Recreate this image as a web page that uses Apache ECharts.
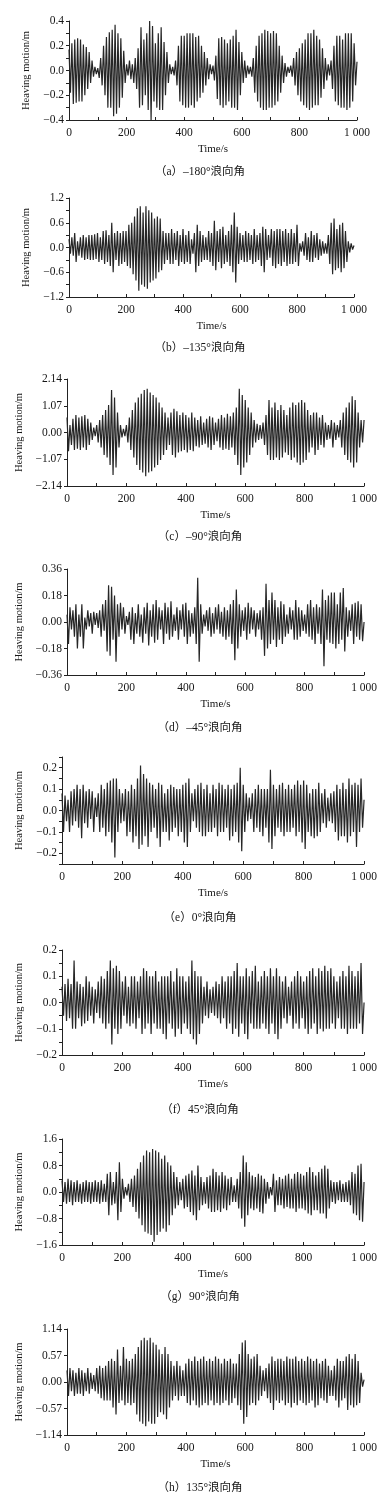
<!DOCTYPE html>
<html><head><meta charset="utf-8">
<script src="https://cdn.jsdelivr.net/npm/echarts@6/dist/echarts.min.js"></script>
<style>html,body{margin:0;padding:0;background:#fff}#c{width:380px;height:1501px}</style>
</head><body><div id="c"></div>
<script>
// time step between successive crest/trough readings (s)
const timeStep = 5;
const xTicks = [0, 200, 400, 600, 800, 1000];
const captions = ['（a）–180°浪向角','（b）–135°浪向角','（c）–90°浪向角','（d）–45°浪向角','（e）0°浪向角','（f）45°浪向角','（g）90°浪向角','（h）135°浪向角'];
const yName = 'Heaving motion/m';

const heaveA = [
0.17,-0.18,0.22,-0.27,0.25,-0.26,0.26,-0.25,0.25,-0.25,0.21,-0.2,0.19,-0.15,0.15,-0.1,0.08,-0.05,0.03,-0.03,
0.02,-0.06,0.1,-0.12,0.2,-0.2,0.27,-0.3,0.31,-0.3,0.33,-0.37,0.37,-0.35,0.3,-0.3,0.26,-0.22,0.16,-0.1,
0.05,-0.04,0.08,-0.07,0.05,-0.1,0.1,-0.15,0.18,-0.3,0.35,-0.28,0.25,-0.2,0.3,-0.32,0.4,-0.4,0.36,-0.25,
0.22,-0.3,0.3,-0.32,0.35,-0.32,0.23,-0.2,0.15,-0.1,0.05,-0.03,0.03,-0.04,0.08,-0.12,0.2,-0.25,0.28,-0.28,
0.28,-0.3,0.3,-0.3,0.3,-0.28,0.3,-0.3,0.27,-0.25,0.28,-0.22,0.2,-0.18,0.15,-0.12,0.1,-0.07,0.05,-0.03,
0.04,-0.08,0.12,-0.23,0.26,-0.28,0.27,-0.3,0.25,-0.28,0.22,-0.25,0.25,-0.3,0.28,-0.3,0.33,-0.32,0.23,-0.2,
0.15,-0.1,0.08,-0.06,0.04,-0.03,0.03,-0.05,0.1,-0.18,0.2,-0.25,0.28,-0.3,0.3,-0.32,0.33,-0.32,0.32,-0.3,
0.3,-0.3,0.32,-0.28,0.3,-0.25,0.2,-0.18,0.12,-0.1,0.06,-0.05,0.03,-0.02,0.04,-0.05,0.1,-0.12,0.15,-0.2,
0.18,-0.25,0.22,-0.28,0.25,-0.3,0.3,-0.32,0.3,-0.3,0.33,-0.28,0.28,-0.28,0.25,-0.22,0.18,-0.15,0.1,-0.08,
0.05,-0.04,0.08,-0.15,0.2,-0.25,0.28,-0.28,0.28,-0.3,0.25,-0.3,0.3,-0.32,0.3,-0.3,0.3,-0.25,0.22,-0.12,0.07];

const heaveB = [
0.2,-0.15,0.25,-0.2,0.35,-0.35,0.15,-0.2,0.25,-0.25,0.3,-0.3,0.25,-0.28,0.3,-0.3,0.3,-0.3,0.32,-0.28,
0.35,-0.35,0.25,-0.3,0.4,-0.4,0.42,-0.35,0.3,-0.45,0.6,-0.6,0.35,-0.3,0.4,-0.45,0.35,-0.4,0.4,-0.35,
0.4,-0.45,0.55,-0.5,0.6,-0.65,0.75,-0.8,0.95,-1.05,1.0,-0.9,0.85,-0.95,1.0,-1.0,0.9,-0.85,0.85,-0.8,
0.7,-0.75,0.75,-0.6,0.7,-0.55,0.4,-0.4,0.35,-0.3,0.35,-0.4,0.45,-0.4,0.35,-0.3,0.4,-0.45,0.3,-0.35,
0.45,-0.4,0.3,-0.35,0.4,-0.4,0.2,-0.15,0.35,-0.6,0.55,-0.45,0.4,-0.35,0.3,-0.3,0.25,-0.3,0.4,-0.35,
0.35,-0.45,0.65,-0.55,0.4,-0.35,0.45,-0.5,0.5,-0.4,0.3,-0.35,0.4,-0.45,0.55,-0.6,0.85,-0.85,0.5,-0.4,
0.35,-0.3,0.3,-0.35,0.4,-0.35,0.35,-0.3,0.3,-0.4,0.45,-0.35,0.3,-0.3,0.35,-0.45,0.5,-0.6,0.45,-0.3,
0.3,-0.25,0.45,-0.45,0.4,-0.5,0.45,-0.4,0.45,-0.45,0.4,-0.35,0.45,-0.45,0.35,-0.4,0.45,-0.4,0.35,-0.35,
0.55,-0.45,0.1,-0.1,0.15,-0.2,0.35,-0.3,0.25,-0.35,0.4,-0.35,0.3,-0.25,0.35,-0.3,0.2,-0.2,0.15,-0.15,
0.1,-0.15,0.3,-0.4,0.6,-0.65,0.7,-0.55,0.45,-0.5,0.55,-0.6,0.6,-0.5,0.4,-0.35,0.15,-0.12,0.1,-0.05,0.05];

const heaveC = [
0.6,-0.75,0.3,-0.5,0.55,-0.7,0.7,-0.65,0.6,-0.7,0.65,-0.6,0.7,-0.7,0.55,-0.5,0.4,-0.3,0.2,-0.15,
0.3,-0.4,0.5,-0.6,0.7,-0.9,0.9,-1.0,1.1,-1.3,1.7,-1.7,1.4,-1.4,0.8,-0.6,0.3,-0.2,0.15,-0.15,
0.3,-0.4,0.6,-0.7,0.9,-1.0,1.2,-1.3,1.4,-1.5,1.55,-1.6,1.7,-1.75,1.75,-1.6,1.6,-1.55,1.5,-1.4,
1.4,-1.3,1.2,-1.1,1.0,-0.9,0.8,-0.7,0.6,-0.5,0.8,-0.9,0.95,-1.0,0.85,-0.8,0.7,-0.75,0.8,-0.7,
0.7,-0.8,0.6,-0.7,0.8,-0.75,0.6,-0.55,0.5,-0.6,0.65,-0.5,0.4,-0.45,0.55,-0.6,0.65,-0.7,0.6,-0.5,
0.4,-0.35,0.55,-0.6,0.7,-0.7,0.6,-0.65,0.75,-0.7,0.65,-0.6,0.8,-0.9,1.0,-1.3,1.75,-1.7,1.5,-1.4,
1.3,-1.2,1.0,-0.9,0.8,-0.6,0.5,-0.4,0.35,-0.3,0.3,-0.25,0.4,-0.5,0.7,-0.9,1.3,-1.1,1.0,-1.1,
1.2,-1.0,0.9,-1.1,1.1,-1.0,0.9,-0.8,0.7,-0.9,1.0,-1.1,1.2,-1.0,1.1,-1.2,1.2,-1.3,1.3,-1.2,
1.2,-1.1,0.9,-0.8,0.7,-0.6,0.8,-0.9,0.8,-0.7,0.6,-0.5,0.7,-0.6,0.4,-0.3,0.3,-0.25,0.5,-0.6,
0.4,-0.3,0.3,-0.2,0.5,-0.6,0.8,-0.9,1.0,-1.1,1.2,-1.2,1.45,-1.4,1.3,-1.2,0.8,-0.6,0.5,-0.4,0.5];

const heaveD = [
0.05,-0.15,0.1,-0.05,0.08,-0.1,0.12,-0.18,0.05,-0.1,0.12,-0.18,0.03,-0.05,0.08,-0.03,0.06,-0.08,0.07,-0.02,
0.06,-0.04,0.08,-0.1,0.12,-0.06,0.15,-0.2,0.25,-0.23,0.24,-0.12,0.18,-0.27,0.12,-0.1,0.13,-0.05,0.1,-0.08,
0.04,-0.02,0.07,-0.12,0.1,-0.15,0.06,-0.08,0.12,-0.1,0.05,-0.14,0.1,-0.08,0.13,-0.16,0.08,-0.1,0.12,-0.14,
0.15,-0.12,0.1,-0.05,0.08,-0.15,0.13,-0.08,0.1,-0.12,0.14,-0.1,0.05,-0.06,0.1,-0.12,0.08,-0.05,0.12,-0.1,
0.13,-0.15,0.08,-0.1,0.06,-0.08,0.1,-0.15,0.3,-0.27,0.12,-0.08,0.05,-0.03,0.08,-0.06,0.1,-0.1,0.06,-0.08,
0.1,-0.05,0.12,-0.08,0.07,-0.1,0.1,-0.12,0.08,-0.1,0.12,-0.15,0.15,-0.26,0.22,-0.18,0.12,-0.1,0.08,-0.06,
0.1,-0.12,0.13,-0.08,0.1,-0.05,0.08,-0.1,0.06,-0.05,0.08,-0.12,0.1,-0.23,0.26,-0.18,0.15,-0.15,0.2,-0.12,
0.15,-0.17,0.1,-0.12,0.14,-0.15,0.12,-0.1,0.05,-0.08,0.1,-0.05,0.08,-0.12,0.15,-0.12,0.1,-0.1,0.08,-0.06,
0.05,-0.08,0.12,-0.1,0.15,-0.12,0.1,-0.15,0.12,-0.08,0.1,-0.15,0.22,-0.3,0.15,-0.12,0.18,-0.14,0.2,-0.15,
0.2,-0.18,0.12,-0.15,0.2,-0.12,0.23,-0.2,0.1,-0.1,0.08,-0.06,0.12,-0.15,0.13,-0.1,0.14,-0.12,0.12,-0.13,0.0];

const heaveE = [
0.08,-0.1,0.07,-0.05,0.05,-0.1,0.09,-0.07,0.1,-0.05,0.12,-0.08,0.1,-0.13,0.12,-0.06,0.09,-0.08,0.1,-0.04,
0.09,-0.1,0.06,-0.03,0.08,-0.1,0.12,-0.08,0.1,-0.12,0.13,-0.1,0.14,-0.15,0.15,-0.22,0.15,-0.1,0.1,-0.06,
0.08,-0.05,0.1,-0.12,0.09,-0.1,0.12,-0.15,0.1,-0.12,0.15,-0.18,0.21,-0.16,0.17,-0.12,0.15,-0.17,0.13,-0.1,
0.12,-0.08,0.1,-0.13,0.13,-0.17,0.12,-0.1,0.08,-0.1,0.1,-0.14,0.12,-0.1,0.11,-0.08,0.1,-0.12,0.1,-0.1,
0.12,-0.15,0.13,-0.17,0.15,-0.1,0.08,-0.05,0.1,-0.08,0.12,-0.1,0.13,-0.12,0.1,-0.12,0.12,-0.1,0.08,-0.1,
0.12,-0.08,0.1,-0.12,0.13,-0.1,0.12,-0.1,0.1,-0.08,0.12,-0.14,0.1,-0.12,0.12,-0.1,0.13,-0.15,0.2,-0.19,
0.12,-0.1,0.08,-0.05,0.06,-0.04,0.08,-0.1,0.1,-0.08,0.12,-0.1,0.1,-0.12,0.1,-0.08,0.1,-0.15,0.19,-0.18,
0.12,-0.12,0.1,-0.08,0.12,-0.1,0.13,-0.12,0.1,-0.1,0.12,-0.1,0.1,-0.08,0.12,-0.12,0.14,-0.1,0.12,-0.15,
0.14,-0.18,0.12,-0.1,0.08,-0.12,0.1,-0.13,0.1,-0.12,0.13,-0.1,0.08,-0.06,0.1,-0.08,0.06,-0.05,0.08,-0.06,
0.09,-0.1,0.12,-0.14,0.1,-0.12,0.13,-0.12,0.1,-0.15,0.15,-0.12,0.12,-0.1,0.13,-0.17,0.12,-0.1,0.15,-0.08,0.05];

const heaveF = [
0.06,-0.05,0.07,-0.07,0.09,-0.06,0.07,-0.1,0.16,-0.1,0.08,-0.06,0.07,-0.09,0.06,-0.08,0.1,-0.07,0.08,-0.05,
0.06,-0.08,0.05,-0.04,0.08,-0.06,0.1,-0.08,0.09,-0.1,0.12,-0.08,0.16,-0.16,0.13,-0.1,0.14,-0.12,0.12,-0.1,
0.08,-0.05,0.1,-0.08,0.06,-0.09,0.1,-0.08,0.1,-0.1,0.08,-0.06,0.1,-0.12,0.13,-0.1,0.12,-0.08,0.1,-0.12,
0.1,-0.08,0.12,-0.1,0.08,-0.1,0.1,-0.12,0.1,-0.14,0.1,-0.08,0.12,-0.1,0.08,-0.13,0.13,-0.1,0.1,-0.12,
0.1,-0.08,0.08,-0.1,0.1,-0.12,0.16,-0.14,0.12,-0.16,0.1,-0.12,0.1,-0.08,0.06,-0.05,0.08,-0.06,0.05,-0.04,
0.06,-0.05,0.08,-0.06,0.07,-0.08,0.1,-0.06,0.08,-0.1,0.1,-0.08,0.1,-0.12,0.12,-0.1,0.15,-0.13,0.1,-0.08,
0.1,-0.12,0.13,-0.14,0.1,-0.08,0.12,-0.1,0.14,-0.1,0.08,-0.1,0.1,-0.08,0.12,-0.1,0.1,-0.12,0.13,-0.08,
0.1,-0.12,0.13,-0.14,0.1,-0.1,0.08,-0.06,0.1,-0.08,0.06,-0.05,0.08,-0.1,0.1,-0.08,0.12,-0.1,0.1,-0.06,
0.08,-0.1,0.1,-0.12,0.12,-0.1,0.13,-0.08,0.1,-0.12,0.13,-0.1,0.12,-0.11,0.14,-0.1,0.12,-0.1,0.13,-0.08,
0.1,-0.1,0.08,-0.06,0.1,-0.1,0.12,-0.1,0.1,-0.12,0.14,-0.1,0.12,-0.1,0.1,-0.1,0.12,-0.08,0.15,-0.12,0.0];

const heaveG = [
0.35,-0.3,0.3,-0.35,0.4,-0.3,0.35,-0.4,0.3,-0.3,0.35,-0.3,0.25,-0.35,0.3,-0.3,0.35,-0.3,0.3,-0.35,
0.3,-0.3,0.35,-0.3,0.3,-0.35,0.35,-0.3,0.25,-0.3,0.55,-0.7,0.6,-0.4,0.3,-0.35,0.6,-0.85,0.9,-0.6,
0.4,-0.2,0.15,-0.1,0.25,-0.3,0.4,-0.45,0.5,-0.6,0.7,-0.8,0.9,-1.0,1.1,-1.2,1.25,-1.25,1.2,-1.3,
1.3,-1.5,1.25,-1.3,1.2,-1.2,1.0,-1.1,1.1,-1.2,0.9,-1.0,0.8,-0.7,0.6,-0.5,0.45,-0.4,0.3,-0.25,
0.4,-0.5,0.5,-0.45,0.55,-0.6,0.65,-0.7,0.5,-0.85,0.8,-0.55,0.45,-0.4,0.3,-0.35,0.45,-0.5,0.5,-0.6,
0.7,-0.6,0.6,-0.55,0.5,-0.6,0.6,-0.5,0.5,-0.55,0.4,-0.4,0.45,-0.3,0.2,-0.3,0.4,-0.5,0.6,-0.8,
1.1,-1.05,0.9,-0.7,0.6,-0.5,0.5,-0.55,0.45,-0.5,0.55,-0.6,0.5,-0.65,0.4,-0.35,0.3,-0.2,0.15,-0.1,
0.55,-0.6,0.35,-0.4,0.45,-0.4,0.4,-0.5,0.5,-0.45,0.55,-0.5,0.4,-0.5,0.55,-0.6,0.6,-0.5,0.55,-0.5,
0.5,-0.55,0.6,-0.65,0.75,-0.7,0.6,-0.55,0.5,-0.55,0.6,-0.65,0.7,-0.65,0.8,-0.8,0.7,-0.5,0.35,-0.3,
0.3,-0.35,0.3,-0.25,0.35,-0.3,0.25,-0.3,0.3,-0.3,0.35,-0.4,0.6,-0.65,0.55,-0.7,0.8,-0.85,0.85,-0.9,0.3];

const heaveH = [
0.25,-0.3,0.3,-0.2,0.25,-0.3,0.2,-0.25,0.3,-0.25,0.25,-0.3,0.2,-0.2,0.3,-0.25,0.2,-0.15,0.15,-0.2,
0.3,-0.25,0.35,-0.35,0.3,-0.4,0.35,-0.4,0.45,-0.4,0.5,-0.55,0.45,-0.7,0.7,-0.45,0.35,-0.4,0.75,-0.5,
0.5,-0.45,0.45,-0.5,0.5,-0.45,0.6,-0.7,0.75,-0.85,0.9,-0.9,0.95,-0.95,0.9,-0.85,0.95,-0.9,0.85,-0.9,
0.8,-0.75,0.7,-0.65,0.6,-0.7,0.75,-0.8,0.6,-0.55,0.45,-0.4,0.35,-0.3,0.45,-0.4,0.35,-0.3,0.25,-0.3,
0.4,-0.45,0.5,-0.5,0.45,-0.4,0.55,-0.5,0.45,-0.55,0.5,-0.5,0.55,-0.45,0.45,-0.5,0.5,-0.4,0.45,-0.5,
0.55,-0.45,0.5,-0.5,0.4,-0.45,0.5,-0.4,0.45,-0.5,0.5,-0.45,0.4,-0.35,0.4,-0.5,0.6,-0.6,0.85,-0.9,
0.9,-0.75,0.6,-0.5,0.5,-0.45,0.55,-0.5,0.6,-0.4,0.35,-0.3,0.25,-0.2,0.3,-0.35,0.4,-0.45,0.55,-0.6,
0.45,-0.4,0.5,-0.45,0.5,-0.4,0.45,-0.5,0.55,-0.45,0.5,-0.55,0.5,-0.45,0.55,-0.5,0.45,-0.4,0.5,-0.45,
0.45,-0.5,0.55,-0.45,0.5,-0.4,0.45,-0.55,0.5,-0.5,0.4,-0.35,0.45,-0.4,0.5,-0.45,0.35,-0.3,0.25,-0.3,
0.35,-0.4,0.5,-0.55,0.45,-0.4,0.45,-0.35,0.55,-0.6,0.6,-0.5,0.5,-0.55,0.6,-0.5,0.45,-0.45,0.2,-0.1,0.05];

// y-axis ranges: [limit, label interval, tick interval, decimals]
const yScales = [
  [0.4, 0.2, 0.1, 1],
  [1.2, 0.6, 0.3, 1],
  [2.14, 1.07, 1.07, 2],
  [0.36, 0.18, 0.18, 2],
  [0.25, 0.1, 0.05, 1],
  [0.2, 0.1, 0.05, 1],
  [1.6, 0.8, 0.4, 1],
  [1.14, 0.57, 0.57, 2]
];
const series = [heaveA, heaveB, heaveC, heaveD, heaveE, heaveF, heaveG, heaveH];

// layout [left, top, width, height, captionY]
const layout = [
  [69, 21, 288, 99, 172],
  [69, 198, 285, 99, 348],
  [67, 379, 300, 107, 537],
  [67, 569, 300, 106, 728],
  [62, 757, 305, 107, 918],
  [62, 950, 305, 105, 1110],
  [62, 1139, 305, 106, 1297],
  [67, 1329, 300, 106, 1488]
];

const FONT = "'Liberation Serif','Times New Roman',serif";
const ink = '#151515';
function fmtNum(v, d) {
  if (Math.abs(v) < 1e-9) return (0).toFixed(d);
  return (v < 0 ? '\u2212' : '') + Math.abs(v).toFixed(d);
}

const grids = [], xAxes = [], yAxes = [], ser = [], graphics = [];
layout.forEach((L, k) => {
  grids.push({left: L[0], top: L[1], width: L[2], height: L[3], containLabel: false});
  xAxes.push({
    type: 'value', gridIndex: k, min: 0, max: 1000, interval: 100,
    name: 'Time/s', nameLocation: 'middle', nameGap: 24,
    nameTextStyle: {fontFamily: FONT, fontSize: 11, color: ink},
    axisLine: {show: true, onZero: false, lineStyle: {color: '#222', width: 1}},
    axisTick: {show: true, inside: true, length: 3, lineStyle: {color: '#222'}},
    splitLine: {show: false},
    axisLabel: {
      fontFamily: FONT, fontSize: 11.5, color: ink, margin: 7,
      formatter: v => xTicks.indexOf(Math.round(v)) >= 0 ? (Math.round(v) === 1000 ? '1 000' : String(Math.round(v))) : ''
    }
  });
  const Y = yScales[k];
  yAxes.push({
    type: 'value', gridIndex: k, min: -Y[0], max: Y[0], interval: Y[2],
    name: yName, nameLocation: 'middle', nameGap: 31,
    nameTextStyle: {fontFamily: FONT, fontSize: 10.5, color: ink},
    axisLine: {show: true, onZero: false, lineStyle: {color: '#222', width: 1}},
    axisTick: {show: true, inside: false, length: 3, lineStyle: {color: '#222'}},
    splitLine: {show: false},
    axisLabel: {
      fontFamily: FONT, fontSize: 11.5, color: ink, margin: 5,
      formatter: v => {
        const r = Math.round(v / Y[1] * 1000) / 1000;
        return Math.abs(r - Math.round(r)) < 1e-6 ? fmtNum(v, Y[3]) : '';
      }
    }
  });
  ser.push({
    type: 'line', xAxisIndex: k, yAxisIndex: k, showSymbol: false, symbol: 'none',
    lineStyle: {color: '#262626', width: 1.2}, animation: false,
    data: series[k].map((v, i) => [i * timeStep, v])
  });
  graphics.push({
    type: 'text', x: 200, y: L[4],
    style: {text: captions[k], align: 'center', verticalAlign: 'middle',
      font: "11.5px 'Liberation Serif','Noto Sans CJK SC',serif", fill: ink}
  });
});

const chart = echarts.init(document.getElementById('c'), null, {renderer: 'canvas', width: 380, height: 1501});
chart.setOption({
  animation: false,
  backgroundColor: '#fff',
  grid: grids, xAxis: xAxes, yAxis: yAxes, series: ser,
  graphic: graphics
});
</script></body></html>
